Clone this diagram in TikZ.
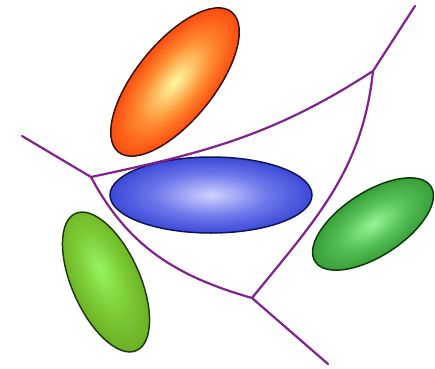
\documentclass[tikz,border=0pt]{standalone}
\usepackage{tikz}
\definecolor{cwall}{RGB}{130,34,142}
\definecolor{credin}{RGB}{255,250,160}
\definecolor{credmid}{RGB}{255,140,50}
\definecolor{credout}{RGB}{250,58,6}
\definecolor{credrim}{RGB}{220,45,5}
\definecolor{credline}{RGB}{60,15,10}
\definecolor{cbluin}{RGB}{210,210,255}
\definecolor{cblumid}{RGB}{110,120,235}
\definecolor{cbluout}{RGB}{38,52,205}
\definecolor{cblurim}{RGB}{26,36,160}
\definecolor{cbluline}{RGB}{15,20,90}
\definecolor{cgrnin}{RGB}{150,245,150}
\definecolor{cgrnmid}{RGB}{85,190,85}
\definecolor{cgrnout}{RGB}{40,140,40}
\definecolor{cgrnrim}{RGB}{28,110,28}
\definecolor{cgrnline}{RGB}{10,60,10}
\definecolor{colvin}{RGB}{150,245,95}
\definecolor{colvmid}{RGB}{125,205,55}
\definecolor{colvout}{RGB}{100,165,30}
\definecolor{colvrim}{RGB}{80,135,20}
\definecolor{colvline}{RGB}{30,60,10}
\pgfdeclareradialshading{redglow}{\pgfpointorigin}{color(0bp)=(credin); color(14bp)=(credmid); color(28bp)=(credout); color(40bp)=(credrim); color(50bp)=(credrim)}
\pgfdeclareradialshading{bluglow}{\pgfpointorigin}{color(0bp)=(cbluin); color(14bp)=(cblumid); color(30bp)=(cbluout); color(42bp)=(cblurim); color(50bp)=(cblurim)}
\pgfdeclareradialshading{grnglow}{\pgfpointorigin}{color(0bp)=(cgrnin); color(14bp)=(cgrnmid); color(32bp)=(cgrnout); color(42bp)=(cgrnrim); color(50bp)=(cgrnrim)}
\pgfdeclareradialshading{olvglow}{\pgfpoint{-5bp}{0bp}}{color(0bp)=(colvin); color(14bp)=(colvmid); color(32bp)=(colvout); color(42bp)=(colvrim); color(50bp)=(colvrim)}
\tikzset{wall/.style={cwall, line width=2.2pt, line cap=round, line join=round}}
\newcommand{\cellblob}[6]{%
  \begin{scope}[transform canvas={shift={#1}, rotate=#2}]
    \shade[shading=#5, draw=#6, line width=1.5pt] (0,0) ellipse [x radius=#3, y radius=#4];
  \end{scope}}

\begin{document}
\begin{tikzpicture}[x=1pt, y=1pt]
  \useasboundingbox[fill=white] (0,0) rectangle (435,368);
  \cellblob{(175,286)}{51}{90}{39}{redglow}{credline}
  \cellblob{(211,173)}{0}{101}{38}{bluglow}{cbluline}
  \cellblob{(373,144)}{33}{69}{32}{grnglow}{cgrnline}
  \cellblob{(106,86)}{-66}{75}{34}{olvglow}{colvline}
  \coordinate (jleft) at (91,191);
  \coordinate (jright) at (373,297);
  \coordinate (jlow) at (252,70);
  \coordinate (eleft) at (22,232);
  \coordinate (etop) at (415,362);
  \coordinate (ebot) at (328,4);
  \draw[wall] (eleft) -- (jleft) to[out=12, in=213] (jright) -- (etop);
  \draw[wall] (jleft) to[out=-62, in=164] (jlow) -- (ebot);
  \draw[wall] (jright) to[out=-96, in=51] (jlow);
\end{tikzpicture}
\end{document}
